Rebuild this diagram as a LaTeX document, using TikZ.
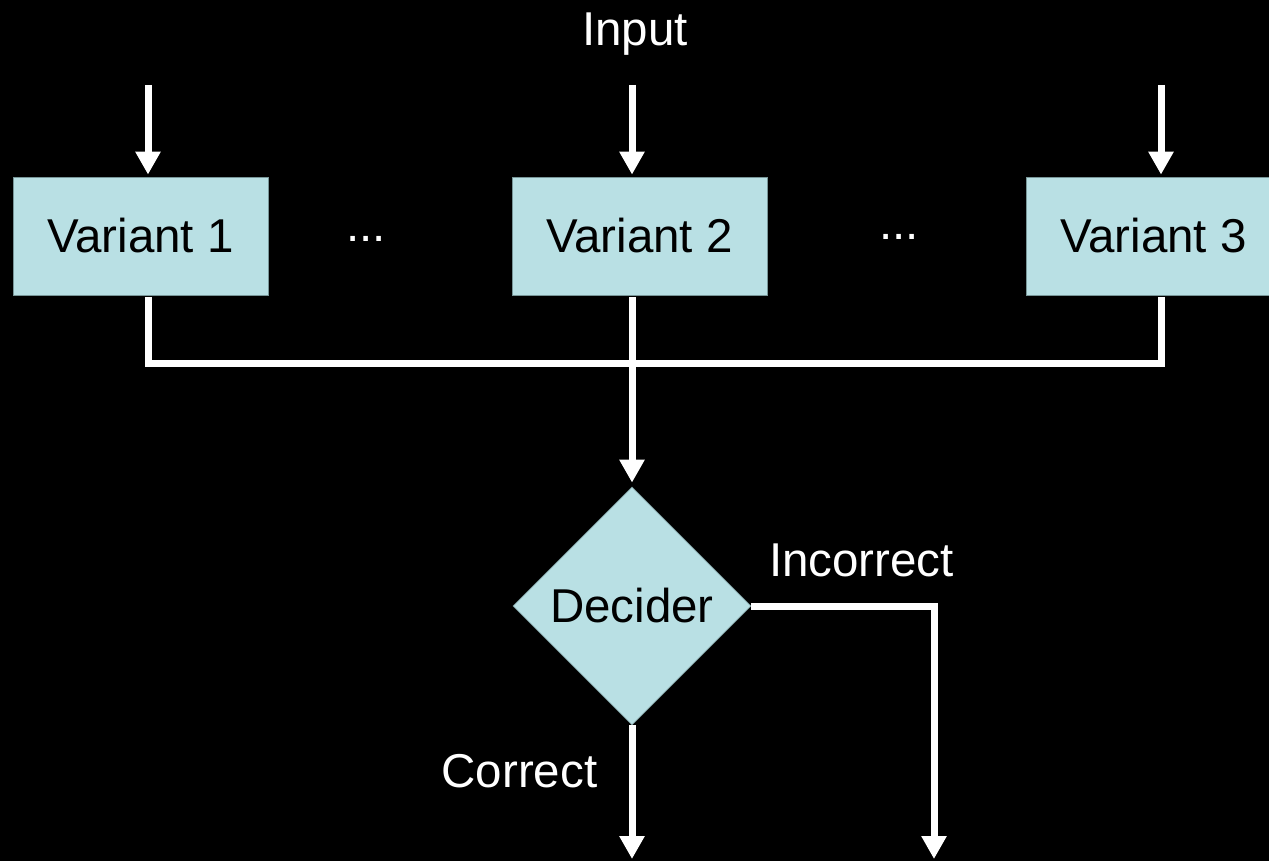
\documentclass[tikz,border=0pt]{standalone}
\usepackage{fontspec}
\setmainfont{Liberation Sans}
\usetikzlibrary{shapes.geometric,arrows.meta}

\definecolor{boxfill}{RGB}{185,224,228}
\definecolor{boxedge}{RGB}{120,150,152}

\tikzset{
  bigtext/.style={font=\fontsize{47.5}{53}\selectfont},
  varbox/.style={bigtext, rectangle, fill=boxfill, draw=boxedge, line width=0.8pt,
                 minimum width=255pt, minimum height=118pt, inner sep=0pt, text=black},
  decbox/.style={bigtext, diamond, aspect=1, fill=boxfill, draw=boxedge, line width=0.8pt,
                 minimum width=238pt, minimum height=238pt, inner sep=0pt, text=black},
  label/.style={bigtext, text=white, anchor=base, inner sep=0pt},
  wire/.style={draw=white, line width=7pt, line join=miter},
  arr/.style={wire, -{Triangle[width=24pt,length=23pt]}}
}

\begin{document}
\begin{tikzpicture}[x=1pt,y=-1pt]
  % canvas
  \fill[black] (0,0) rectangle (1269,861);
  \useasboundingbox (0,0) rectangle (1269,861);

  % variant boxes
  \node[varbox] (v1) at (140.5,236) {Variant 1};
  \node[varbox] (v2) at (639.5,236) {Variant 2};
  \node[varbox] (v3) at (1153.5,236) {Variant 3};

  % ellipses between the variants
  \node[label] (dots1) at (366,242) {...};
  \node[label] (dots2) at (899,240) {...};

  % decider
  \node[decbox] (dec) at (632,606) {Decider};

  % labels
  \node[label] (inp) at (635,46) {Input};
  \node[label] (inc) at (861.5,576) {Incorrect};
  \node[label] (cor) at (519.5,787) {Correct};

  % port coordinates
  \coordinate (in1) at (148,85);
  \coordinate (in2) at (632,85);
  \coordinate (in3) at (1161,85);
  \coordinate (bus) at (0,363);
  \coordinate (outc) at (632,859);
  \coordinate (outi) at (934,859);

  % inputs into the variants
  \draw[arr] (in1) -- ([yshift=2pt]in1 |- v1.north);
  \draw[arr] (in2) -- ([yshift=2pt]in2 |- v2.north);
  \draw[arr] (in3) -- ([yshift=2pt]in3 |- v3.north);

  % variant outputs joined on a common bus
  \draw[wire] ([yshift=-2pt]in1 |- v1.south) |- (bus -| in3) -- ([yshift=-2pt]in3 |- v3.south);
  \draw[arr] ([yshift=-2pt]in2 |- v2.south) -- ([yshift=4pt]dec.north);

  % decider outcomes
  \draw[arr] (dec.south) -- (outc);
  \draw[arr] (dec.east) -| (outi);
\end{tikzpicture}
\end{document}
